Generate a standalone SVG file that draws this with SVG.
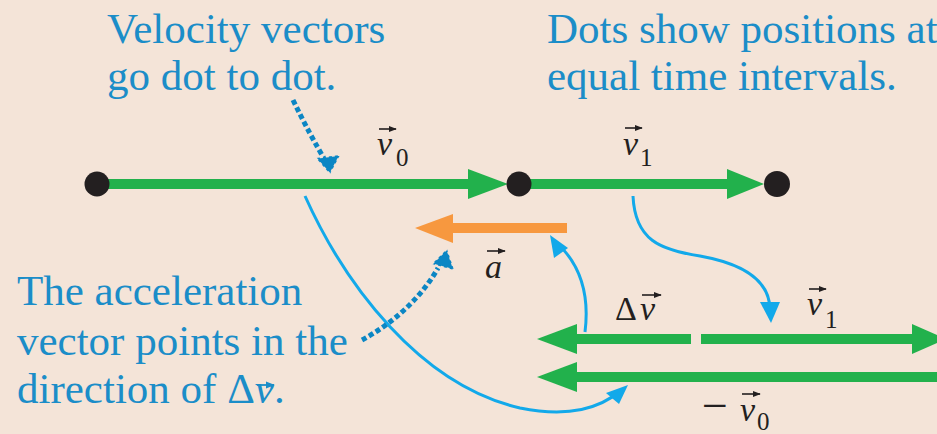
<svg xmlns="http://www.w3.org/2000/svg" width="937" height="434" viewBox="0 0 937 434">
<style>
.ser{font-family:'Liberation Serif','Times New Roman',Times,'Noto Serif','DejaVu Serif',Tinos,FreeSerif,serif}
.note{font-size:43px;fill:#1b8dc8}
.m{font-style:italic;font-size:34px;fill:#231f20}
.sub{font-style:normal;font-size:25px}
.g{stroke:#22b14c;stroke-width:10;fill:none}
.gh{fill:#22b14c}
.dot{fill:#231f20}
.cur{stroke:#12a9ea;stroke-width:3;fill:none}
.curh{fill:#12a9ea}
.dt{stroke:#0b86c4;stroke-width:5;fill:none;stroke-dasharray:5 3}
.dth{fill:#0b86c4;stroke:#f4e4d8;stroke-width:1.5;stroke-dasharray:3 3}
.acc{stroke:#231f20;stroke-width:1.6;fill:none}
.nacc{stroke:#1b8dc8;stroke-width:1.8;fill:none}
</style>
<defs>
<marker id="ah" viewBox="0 0 10 10" refX="9" refY="5" markerWidth="5" markerHeight="5" markerUnits="strokeWidth" orient="auto"><path d="M0,1 L10,5 L0,9 z" fill="#231f20"/></marker>
<marker id="ahb" viewBox="0 0 10 10" refX="9" refY="5" markerWidth="5" markerHeight="5" markerUnits="strokeWidth" orient="auto"><path d="M0,1 L10,5 L0,9 z" fill="#1b8dc8"/></marker>
</defs>
<rect width="937" height="434" fill="#f4e4d8"/>
<g id="connectors">
<path class="cur" d="M305,196 C345,285 420,385 520,408 C570,418 600,408 622,390"/>
<polygon class="curh" points="628,385 606,393 619,404"/>
<path class="cur" d="M585,332 C590,292 578,262 556,242"/>
<polygon class="curh" points="550,235 554,258 568,248"/>
<path class="cur" d="M633,196 C635,240 660,250 700,256 C750,265 770,285 770,310"/>
<polygon class="curh" points="771,323 760,302 780,302"/>
<path class="dt" d="M293,100 C305,125 316,145 325,160"/>
<polygon class="dth" points="316,158 330,174 340,155"/>
<path class="dt" d="M362,340 C390,325 420,300 438,268"/>
<polygon class="dth" points="432,264 447,249 454,270"/>
</g>
<g id="v0">
<line class="g" x1="97" y1="184" x2="472" y2="184"/>
<polygon class="gh" points="468,169 508,184 468,199"/>
</g>
<g id="v1">
<line class="g" x1="519" y1="184" x2="730" y2="184"/>
<polygon class="gh" points="727,169 764,184 727,199"/>
</g>
<g id="dots">
<circle class="dot" cx="97" cy="184" r="12.5"/>
<circle class="dot" cx="519" cy="184" r="12.5"/>
<circle class="dot" cx="777" cy="184" r="13"/>
</g>
<g id="accel">
<line x1="450" y1="228" x2="567" y2="228" stroke="#f7983f" stroke-width="10"/>
<polygon points="415,228 453,214 453,243" fill="#f7983f"/>
</g>
<g id="dv">
<line class="g" x1="570" y1="339" x2="691" y2="339"/>
<polygon class="gh" points="537,339 577,324 577,354"/>
</g>
<g id="v1b">
<line class="g" x1="701" y1="339" x2="915" y2="339"/>
<polygon class="gh" points="912,324 946,339 912,354"/>
</g>
<g id="mv0">
<line class="g" x1="570" y1="377" x2="940" y2="377"/>
<polygon class="gh" points="537,377 577,362 577,392"/>
</g>
<g id="labels" class="ser">
<text class="m ser" x="377" y="155">v<tspan class="sub" x="396" y="166">0</tspan></text>
<line class="acc" x1="379" y1="129" x2="396" y2="129" marker-end="url(#ah)"/>
<text class="m ser" x="623" y="155">v<tspan class="sub" x="640" y="166">1</tspan></text>
<line class="acc" x1="625" y1="128" x2="642" y2="128" marker-end="url(#ah)"/>
<text class="m ser" x="485" y="278">a</text>
<line class="acc" x1="487" y1="251" x2="505" y2="251" marker-end="url(#ah)"/>
<text class="m ser" x="615" y="320"><tspan font-style="normal">Δ</tspan><tspan x="640">v</tspan></text>
<line class="acc" x1="642" y1="295" x2="661" y2="295" marker-end="url(#ah)"/>
<text class="m ser" x="807" y="315">v<tspan class="sub" x="825" y="328">1</tspan></text>
<line class="acc" x1="809" y1="289" x2="826" y2="289" marker-end="url(#ah)"/>
<text class="m ser" x="702" y="421"><tspan font-style="normal" font-size="46">−</tspan><tspan x="740">v</tspan><tspan class="sub" x="757" y="430">0</tspan></text>
<line class="acc" x1="742" y1="394" x2="760" y2="394" marker-end="url(#ah)"/>
</g>
<g id="notes" class="ser">
<text class="note ser" x="107" y="43">Velocity vectors</text>
<text class="note ser" x="107" y="90">go dot to dot.</text>
<text class="note ser" x="547" y="43">Dots show positions at</text>
<text class="note ser" x="547" y="90">equal time intervals.</text>
<text class="note ser" x="17" y="305">The acceleration</text>
<text class="note ser" x="17" y="355">vector points in the</text>
<text class="note ser" x="17" y="403">direction of Δ<tspan font-style="italic">v</tspan>.</text>
<line class="nacc" x1="257" y1="385" x2="274" y2="385" marker-end="url(#ahb)"/>
</g>
</svg>
